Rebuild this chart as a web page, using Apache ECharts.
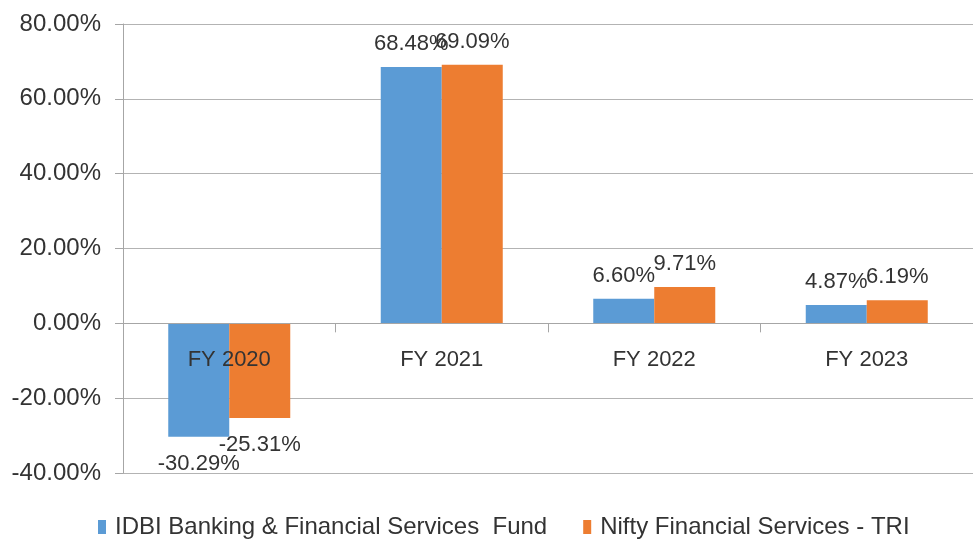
<!DOCTYPE html>
<html>
<head>
<meta charset="utf-8">
<script src="https://cdn.jsdelivr.net/npm/echarts@6/dist/echarts.min.js"></script>
<style>
  html, body { margin: 0; padding: 0; background: #fff; }
  #chart { width: 973px; height: 540px; }
</style>
</head>
<body>
<div id="chart"></div>
<script>
// chart data
var categories = ['FY 2020', 'FY 2021', 'FY 2022', 'FY 2023']
var fundName = 'IDBI Banking & Financial Services  Fund'
var indexName = 'Nifty Financial Services - TRI'
var fundValues = [-30.29, 68.48, 6.60, 4.87]
var indexValues = [-25.31, 69.09, 9.71, 6.19]
var yTicks = [-40, -20, 0, 20, 40, 60, 80]

var font = 'Liberation Sans, Arial, sans-serif'
var textColor = '#333'

function labelFor(value) {
  // positive values above the bar, negative below
  return {
    show: true,
    position: value < 0 ? 'bottom' : 'top',
    distance: value < 0 ? 16 : 12,
    formatter: function (p) { return p.value.toFixed(2) + '%' },
    color: textColor,
    fontFamily: font,
    fontSize: 22
  }
}

function buildData(values) {
  return values.map(function (v) {
    return { value: v, label: labelFor(v) }
  })
}

var chart = echarts.init(document.getElementById('chart'))
chart.setOption({
  animation: false,
  grid: {
    left: 123,
    right: -7,
    top: 24,
    bottom: 67,
    containLabel: false
  },
  legend: {
    left: 93,
    top: 510,
    itemWidth: 8,
    itemHeight: 14,
    itemGap: 36,
    icon: 'rect',
    textStyle: {
      color: textColor,
      fontFamily: font,
      fontSize: 24,
      padding: [0, 0, 0, 4]
    },
    data: [fundName, indexName]
  },
  xAxis: {
    type: 'category',
    data: categories,
    axisLine: { onZero: true, lineStyle: { color: '#a6a6a6', width: 1 } },
    axisTick: { show: true, length: 9, lineStyle: { color: '#a6a6a6' } },
    axisLabel: {
      // labels sit just under the zero line, not at the grid bottom
      margin: -124,
      color: textColor,
      fontFamily: font,
      fontSize: 22
    },
    z: 5
  },
  yAxis: {
    type: 'value',
    min: yTicks[0],
    max: yTicks[yTicks.length - 1],
    interval: 20,
    axisLine: { show: true, lineStyle: { color: '#a6a6a6', width: 1 } },
    axisTick: { show: true, length: 8, lineStyle: { color: '#a6a6a6' } },
    splitLine: { lineStyle: { color: '#b3b3b3', width: 1 } },
    axisLabel: {
      margin: 22,
      color: textColor,
      fontFamily: font,
      fontSize: 24,
      formatter: function (v) { return v.toFixed(2) + '%' }
    }
  },
  series: [
    {
      name: fundName,
      type: 'bar',
      barWidth: 61,
      barGap: '0%',
      itemStyle: { color: '#5B9BD5' },
      data: buildData(fundValues)
    },
    {
      name: indexName,
      type: 'bar',
      barWidth: 61,
      barGap: '0%',
      itemStyle: { color: '#ED7D31' },
      data: buildData(indexValues)
    }
  ]
})
</script>
</body>
</html>
